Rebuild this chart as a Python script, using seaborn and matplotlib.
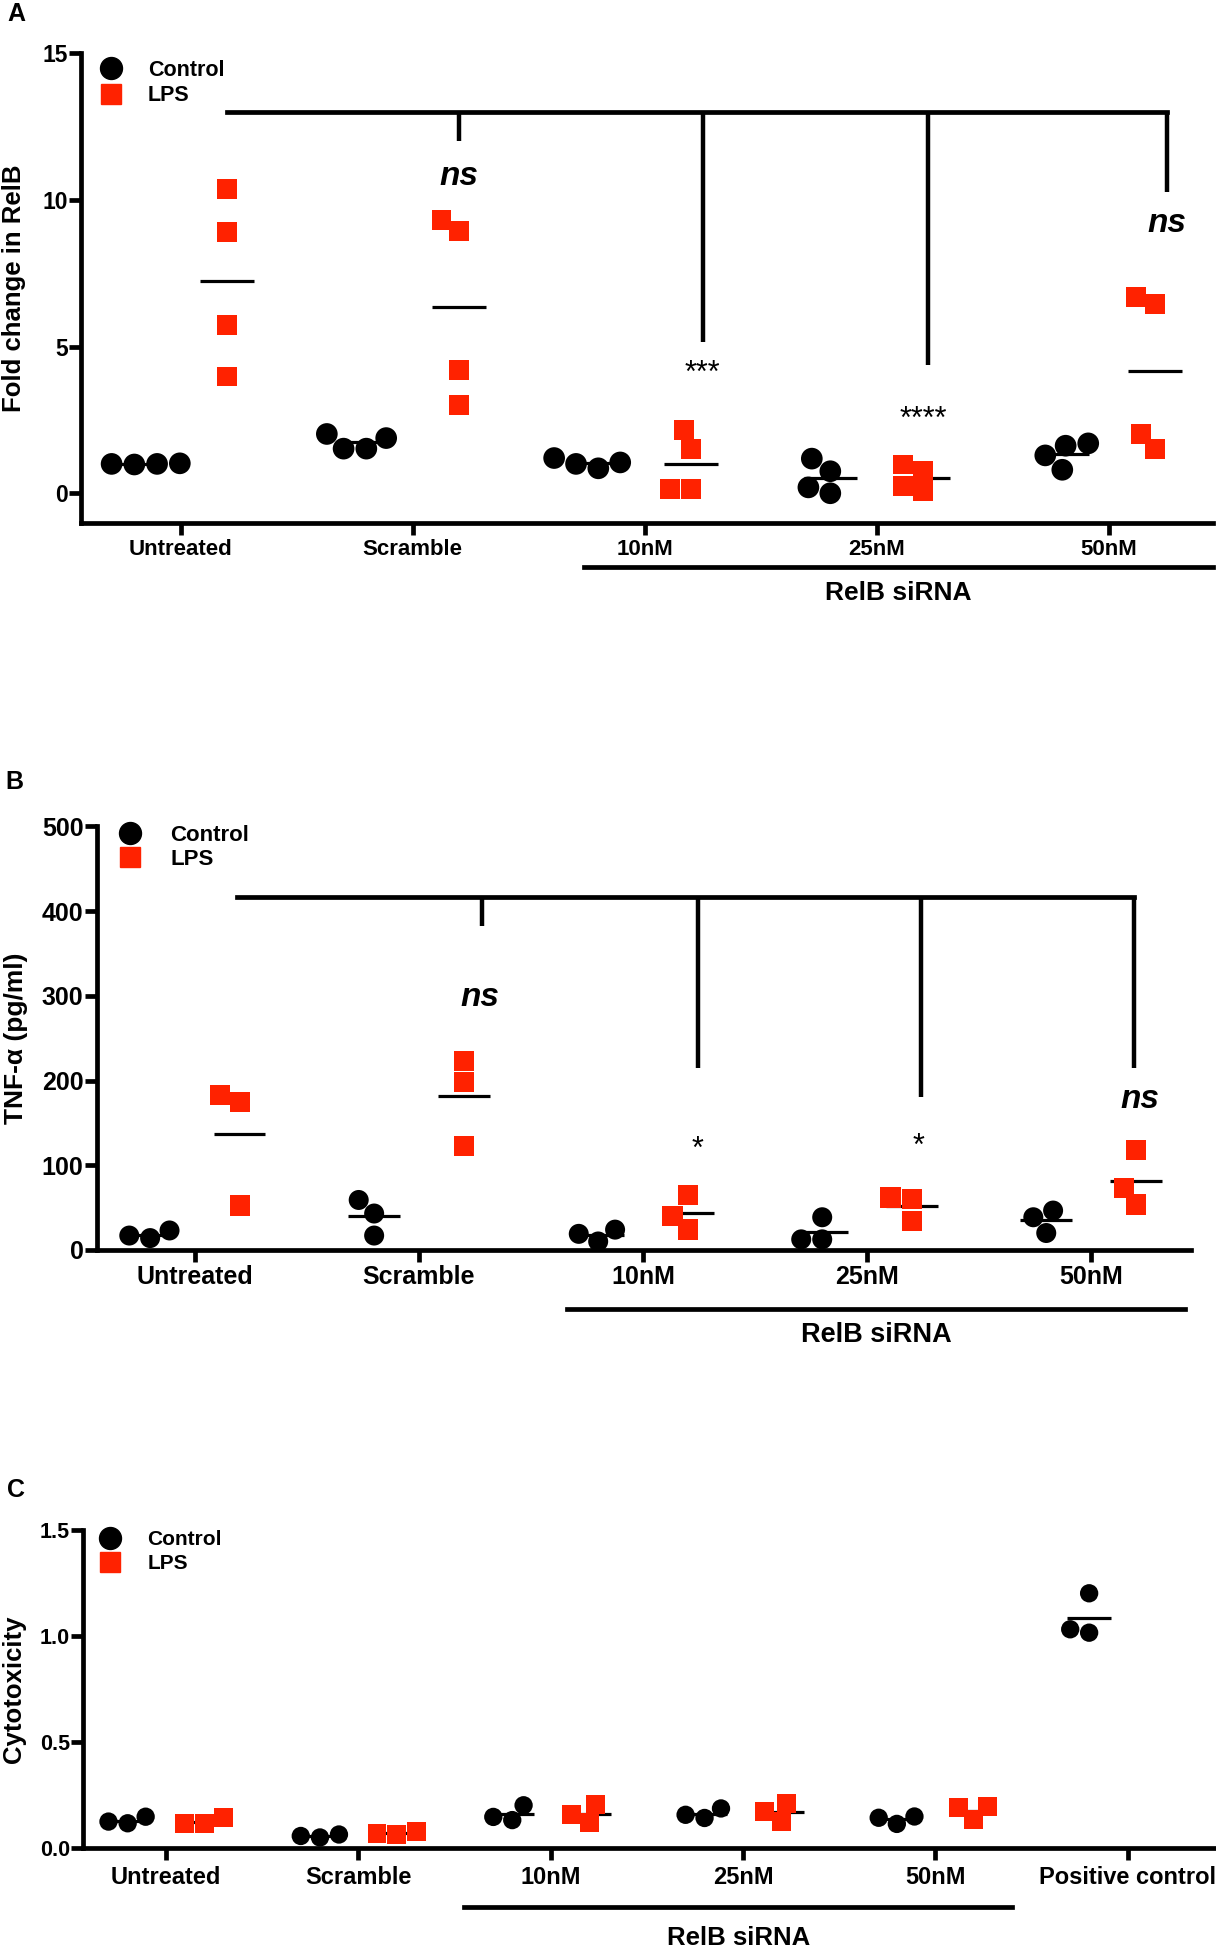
import pandas as pd
import matplotlib
matplotlib.use("Agg")
import matplotlib.pyplot as plt
import seaborn as sns
from matplotlib.lines import Line2D

plt.rcParams["font.family"] = ["Liberation Sans", "DejaVu Sans"]
plt.rcParams["font.weight"] = "bold"
plt.rcParams["axes.labelweight"] = "bold"

RED = "#FF2200"
PALETTE = {"Control": "black", "LPS": RED}

groups = ["Untreated", "Scramble", "10nM", "25nM", "50nM"]
groups_c = groups + ["Positive control"]

# A: fold change in RelB, 4 replicates per group
relb_control = [[0.98, 1.0, 1.0, 1.02], [1.88, 1.52, 1.52, 2.02], [1.0, 0.85, 1.05, 1.2],
                [1.18, 0.75, 0.2, 0.0], [1.62, 1.7, 1.29, 0.8]]
relb_lps = [[10.36, 8.91, 5.72, 3.98], [8.94, 9.3, 4.19, 3.01], [2.16, 1.52, 0.14, 0.14],
            [0.77, 0.98, 0.26, 0.07], [6.7, 6.46, 1.52, 2.02]]

# B: TNF-alpha (pg/ml), 3 replicates per group
tnf_control = [[23, 14, 17], [59, 43, 17], [24, 10, 19], [38.6, 12.5, 12.5], [46.5, 38.6, 20]]
tnf_lps = [[183, 175, 52.5], [223, 198, 122.5], [65, 40.5, 24], [62, 60.5, 34], [118, 73.5, 53.6]]

# C: cytotoxicity
cyto_control = [[0.146, 0.115, 0.123], [0.062, 0.048, 0.055], [0.2, 0.13, 0.145],
                [0.185, 0.14, 0.155], [0.147, 0.141, 0.112], [1.201, 1.015, 1.031]]
cyto_lps = [[0.143, 0.113, 0.113], [0.075, 0.065, 0.063], [0.202, 0.157, 0.118],
            [0.209, 0.17, 0.123], [0.194, 0.189, 0.131], []]

# significance brackets: (left x, bar y, [(drop x, drop end y), ...])
bracket_a = (0.2, 13, [(1.2, 12.0), (2.25, 5.17), (3.22, 4.36), (4.25, 10.27)])
bracket_b = (0.19, 417, [(1.28, 382), (2.244, 215), (3.24, 180.5), (4.19, 215)])
# significance labels: (text, x, y)
sig_a = [("ns", 1.2, 10.8), ("***", 2.25, 4.05), ("****", 3.2, 2.5), ("ns", 4.25, 9.2)]
sig_b = [("ns", 1.27, 298), ("*", 2.245, 118), ("*", 3.23, 122), ("ns", 4.22, 178)]


def long_table(names, control, lps):
    rows = []
    for g, c, l in zip(names, control, lps):
        rows += [(g, "Control", v) for v in c]
        rows += [(g, "LPS", v) for v in l]
    return pd.DataFrame(rows, columns=["Group", "Treatment", "Value"])


def draw_points(ax, df, order, dot, square):
    for trt, mk, sz in [("Control", "o", dot), ("LPS", "s", square)]:
        sns.swarmplot(data=df[df.Treatment == trt], x="Group", y="Value", hue="Treatment",
                      order=order, hue_order=["Control", "LPS"], palette=PALETTE,
                      dodge=True, marker=mk, size=sz, linewidth=0, legend=False,
                      ax=ax, zorder=3)
    means = df.groupby(["Group", "Treatment"])["Value"].mean()
    for (g, trt), m in means.items():
        x = order.index(g) + (-0.2 if trt == "Control" else 0.2)
        ax.hlines(m, x - 0.115, x + 0.115, color="black", lw=2.3, zorder=2)


def style_axes(ax, xlim, ylim, yticks, ylabel, xfs, yfs, labfs, labx, xpad):
    ax.set_xlim(xlim)
    ax.set_ylim(ylim)
    ax.set_yticks(yticks)
    sns.despine(ax=ax)
    for s in ["left", "bottom"]:
        ax.spines[s].set_linewidth(3.4)
    ax.tick_params(axis="both", width=3.4, length=8.5, color="black")
    ax.tick_params(axis="x", labelsize=xfs, pad=xpad)
    ax.tick_params(axis="y", labelsize=yfs, pad=1)
    ax.set_xlabel("")
    ax.set_ylabel(ylabel, fontsize=labfs, fontweight="bold", va="center")
    ax.yaxis.set_label_coords(labx, 0.5)


def add_legend(ax, anchor, fs, hp, ls):
    handles = [Line2D([], [], marker="o", color="black", ls="", markersize=15.8),
               Line2D([], [], marker="s", color=RED, ls="", markersize=14.4)]
    ax.legend(handles=handles, labels=["Control", "LPS"], loc="center left",
              bbox_to_anchor=anchor, frameon=False, borderpad=0, borderaxespad=0,
              handlelength=1.0, handletextpad=hp, labelspacing=ls,
              prop={"weight": "bold", "size": fs})


def add_bracket(ax, bracket):
    x0, y, drops = bracket
    ax.plot([x0, drops[-1][0]], [y, y], color="black", lw=3.4, solid_capstyle="projecting")
    for x, y1 in drops:
        ax.plot([x, x], [y, y1], color="black", lw=3.2, solid_capstyle="butt")


def add_sig(ax, labels, ns_fs, star_fs):
    for txt, x, y in labels:
        if txt == "ns":
            ax.text(x, y, txt, fontsize=ns_fs, fontstyle="italic", fontweight="bold",
                    ha="center", va="center")
        else:
            ax.text(x, y, txt, fontsize=star_fs, fontweight="normal", ha="center", va="center")


def add_sirna(ax, x0, x1, yline, ytext, fs):
    tr = ax.get_xaxis_transform()
    ax.plot([x0, x1], [yline, yline], color="black", lw=3.4, transform=tr, clip_on=False)
    ax.text((x0 + x1) / 2, ytext, "RelB siRNA", transform=tr, ha="center", va="center",
            fontsize=fs, fontweight="bold")


fig = plt.figure(figsize=(12.16, 19.5), dpi=100)

# Panel A
ax_a = fig.add_axes([0.0666, 0.732, 0.931, 0.2408])
draw_points(ax_a, long_table(groups, relb_control, relb_lps), groups, 15.6, 14.3)
style_axes(ax_a, (-0.43, 4.45), (-1, 15), [0, 5, 10, 15], "Fold change in RelB",
           16, 16.5, 18.5, -0.059, 3.0)
add_legend(ax_a, (0.0167, 0.936), 15.5, 1.23, 0.22)
add_bracket(ax_a, bracket_a)
add_sig(ax_a, sig_a, 24, 22)
add_sirna(ax_a, 1.74, 4.45, -0.095, -0.15, 19)

# Panel B
ax_b = fig.add_axes([0.0796, 0.359, 0.900, 0.2172])
draw_points(ax_b, long_table(groups, tnf_control, tnf_lps), groups, 14.4, 14.6)
style_axes(ax_b, (-0.438, 4.447), (0, 500), [0, 100, 200, 300, 400, 500], "TNF-α (pg/ml)",
           18, 18, 19, -0.074, 2.5)
add_legend(ax_b, (0.0206, 0.950), 16, 1.28, 0.12)
add_bracket(ax_b, bracket_b)
add_sig(ax_b, sig_b, 24, 22)
add_sirna(ax_b, 1.66, 4.42, -0.140, -0.20, 19.5)

# Panel C
ax_c = fig.add_axes([0.0683, 0.0525, 0.930, 0.1629])
draw_points(ax_c, long_table(groups_c, cyto_control, cyto_lps), groups_c, 13.2, 13.6)
style_axes(ax_c, (-0.432, 5.449), (0, 1.5), [0, 0.5, 1.0, 1.5], "Cytotoxicity",
           17, 15.5, 18.5, -0.061, 4.5)
ax_c.set_yticklabels(["0.0", "0.5", "1.0", "1.5"])
add_legend(ax_c, (0.0147, 0.932), 15, 1.28, 0.22)
add_sirna(ax_c, 1.55, 4.40, -0.186, -0.284, 18.5)

for letter, (px, py) in zip("ABC", [(16, 14), (14, 782), (16, 1490)]):
    fig.text(px / 1216, 1 - py / 1950, letter, fontsize=18, fontweight="bold",
             ha="center", va="center")

fig.savefig("out.png", dpi=100)
